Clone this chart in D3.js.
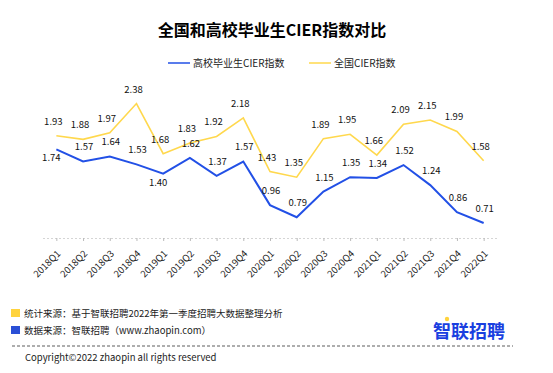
<html>
<head>
<meta charset="utf-8">
<script src="https://d3js.org/d3.v7.min.js"></script>
<style>
	body { margin: 0; background: #fff; }
	text { font-family: "Noto Sans CJK SC", "Noto Sans", sans-serif; }
</style>
</head>
<body>
<svg id="chart"></svg>
<script>

var categories = ["2018Q1","2018Q2","2018Q3","2018Q4","2019Q1","2019Q2","2019Q3","2019Q4",
	"2020Q1","2020Q2","2020Q3","2020Q4","2021Q1","2021Q2","2021Q3","2021Q4","2022Q1"];
var graduateValues = [1.74,1.57,1.64,1.53,1.40,1.62,1.37,1.57,0.96,0.79,1.15,1.35,1.34,1.52,1.24,0.86,0.71];
var nationalValues = [1.93,1.88,1.97,2.38,1.68,1.83,1.92,2.18,1.43,1.35,1.89,1.95,1.66,2.09,2.15,1.99,1.58];
var seriesNames = ["高校毕业生CIER指数", "全国CIER指数"];
// which blue labels sit under the line
var graduateBelow = [true,false,false,false,true,false,false,false,false,false,false,false,false,false,false,false,false];

var width = 553, height = 373;
var blue = "#2250e6", yellow = "#ffd84d";

var svg = d3.select("#chart").attr("width", width).attr("height", height);

// title
svg.append("text")
	.attr("x", 272).attr("y", 36)
	.attr("text-anchor", "middle")
	.style("font-size", "16px").style("font-weight", "bold")
	.text("全国和高校毕业生CIER指数对比");

// scales
var x = d3.scalePoint().domain(categories).range([43, 497]).padding(0.5);
var y = d3.scaleLinear().domain([0.5, 2.5]).range([238, 95]);

// x axis
var xAxis = svg.append("g")
	.attr("transform", "translate(0,238)")
	.call(d3.axisBottom(x).tickSize(3).tickSizeOuter(0));
xAxis.select(".domain").attr("stroke", "#aaa").attr("stroke-dasharray", "1,3");
xAxis.selectAll(".tick line").attr("stroke", "#bbb");
xAxis.selectAll(".tick text")
	.attr("y", 0)
	.attr("transform", "translate(2,14) rotate(-45)")
	.attr("text-anchor", "end")
	.attr("dy", "0.35em")
	.style("font-size", "9.5px")
	.attr("fill", "#222");

// lines
var line = function(vals){
	return d3.line().x(function(d, i){ return x(categories[i]); }).y(function(d){ return y(d); })(vals);
};
svg.append("path").attr("d", line(nationalValues))
	.attr("fill", "none").attr("stroke", yellow).attr("stroke-width", 1.6);
svg.append("path").attr("d", line(graduateValues))
	.attr("fill", "none").attr("stroke", blue).attr("stroke-width", 2);

// value labels
svg.append("g").selectAll("text").data(nationalValues).join("text")
	.attr("x", function(d, i){ return x(categories[i]) - 3; })
	.attr("y", function(d){ return y(d) - 11; })
	.attr("text-anchor", "middle")
	.style("font-size", "9.5px").attr("fill", "#111")
	.text(function(d){ return d.toFixed(2); });
svg.append("g").selectAll("text").data(graduateValues).join("text")
	.attr("x", function(d, i){ return x(categories[i]) + (graduateBelow[i] ? -5 : 1); })
	.attr("y", function(d, i){ return graduateBelow[i] ? y(d) + 12 : y(d) - 11; })
	.attr("text-anchor", "middle")
	.style("font-size", "9.5px").attr("fill", "#111")
	.text(function(d){ return d.toFixed(2); });

// legend
var legend = svg.append("g").attr("transform", "translate(0,63)");
[[168, blue, seriesNames[0]], [309, yellow, seriesNames[1]]].forEach(function(l){
	legend.append("line")
		.attr("x1", l[0]).attr("x2", l[0] + 22)
		.attr("y1", 0).attr("y2", 0)
		.attr("stroke", l[1]).attr("stroke-width", 1.5);
	legend.append("text")
		.attr("x", l[0] + 25).attr("y", 4)
		.style("font-size", "10px").attr("fill", "#222")
		.text(l[2]);
});

// footer notes
svg.append("rect").attr("x", 11).attr("y", 309).attr("width", 9).attr("height", 8).attr("fill", "#ffd33d");
svg.append("text").attr("x", 24).attr("y", 317)
	.style("font-size", "9.5px").attr("fill", "#222")
	.text("统计来源：基于智联招聘2022年第一季度招聘大数据整理分析");
svg.append("rect").attr("x", 11).attr("y", 326).attr("width", 9).attr("height", 8).attr("fill", "#2a4fd6");
svg.append("text").attr("x", 24).attr("y", 334)
	.style("font-size", "9.5px").attr("fill", "#222")
	.text("数据来源：智联招聘（www.zhaopin.com）");

// logo
svg.append("text").attr("x", 433).attr("y", 338)
	.style("font-size", "18px").style("font-weight", "bold")
	.attr("fill", "#1a3fe0")
	.text("智联招聘");
svg.append("circle").attr("cx", 447).attr("cy", 319).attr("r", 2.2).attr("fill", "#ffd33d");

svg.append("line")
	.attr("x1", 12).attr("x2", 513).attr("y1", 346).attr("y2", 346)
	.attr("stroke", "#333").attr("stroke-dasharray", "3,2").attr("stroke-width", 0.8);
svg.append("text").attr("x", 25).attr("y", 361)
	.style("font-size", "9.5px").attr("fill", "#222")
	.text("Copyright©2022 zhaopin all rights reserved");

</script>
</body>
</html>
